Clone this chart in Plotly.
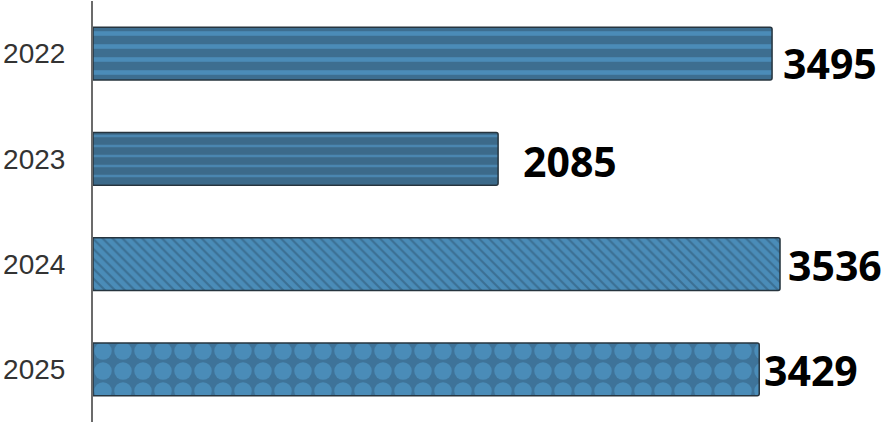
import plotly.graph_objects as go

years = ["2022", "2023", "2024", "2025"]
values = [3495, 2085, 3536, 3429]
labels = ["3495", "2085", "3536", "3429"]

# styling (not data)
patterns = ["-", "-", "\\", "."]
bg_colors = ["#3d6e90", "#3c6a8a", "#4a8cb8", "#3e7399"]
fg_colors = ["#4b8cb8", "#4a86b0", "#3b6f93", "#4a8cb8"]
pat_sizes = [13, 10, 7, 20]
pat_solid = [0.35, 0.25, 0.3, 0.6]
label_dx = [9, 23, 6, 3]
label_dy = [-9, -2, -1, -1]

fig = go.Figure()
for y, v, pat, bg, fg, ps, so in zip(years, values, patterns, bg_colors, fg_colors, pat_sizes, pat_solid):
    fig.add_trace(go.Bar(
        y=[y], x=[v], orientation="h", width=0.5,
        marker=dict(
            color=bg,
            line=dict(color="#26343e", width=1.5),
            cornerradius=2,
            pattern=dict(shape=pat, fgcolor=fg, bgcolor=bg, size=ps, solidity=so,
                         fgopacity=1, fillmode="replace"),
        ),
    ))

for i, (v, t, dx, dy) in enumerate(zip(values, labels, label_dx, label_dy)):
    fig.add_annotation(x=v, y=i, text=t, showarrow=False, xanchor="left", yanchor="middle",
                       xshift=dx, yshift=dy,
                       font=dict(family="Open Sans", size=41, color="#000000", weight="bold"))

fig.update_layout(
    width=883, height=422,
    margin=dict(l=93, r=0, t=1, b=0),
    plot_bgcolor="white", paper_bgcolor="white",
    showlegend=False, barmode="overlay",
    xaxis=dict(range=[0, 4066], showgrid=False, zeroline=False, showticklabels=False, ticks=""),
    yaxis=dict(type="category", categoryorder="array", categoryarray=years,
               range=[3.5, -0.5], showline=True, linecolor="#6b6b6b", linewidth=2,
               ticks="", ticklabelstandoff=20,
               tickfont=dict(family="Liberation Sans", size=28, color="#333333"),
               showgrid=False),
)

fig.write_html("out.html")
